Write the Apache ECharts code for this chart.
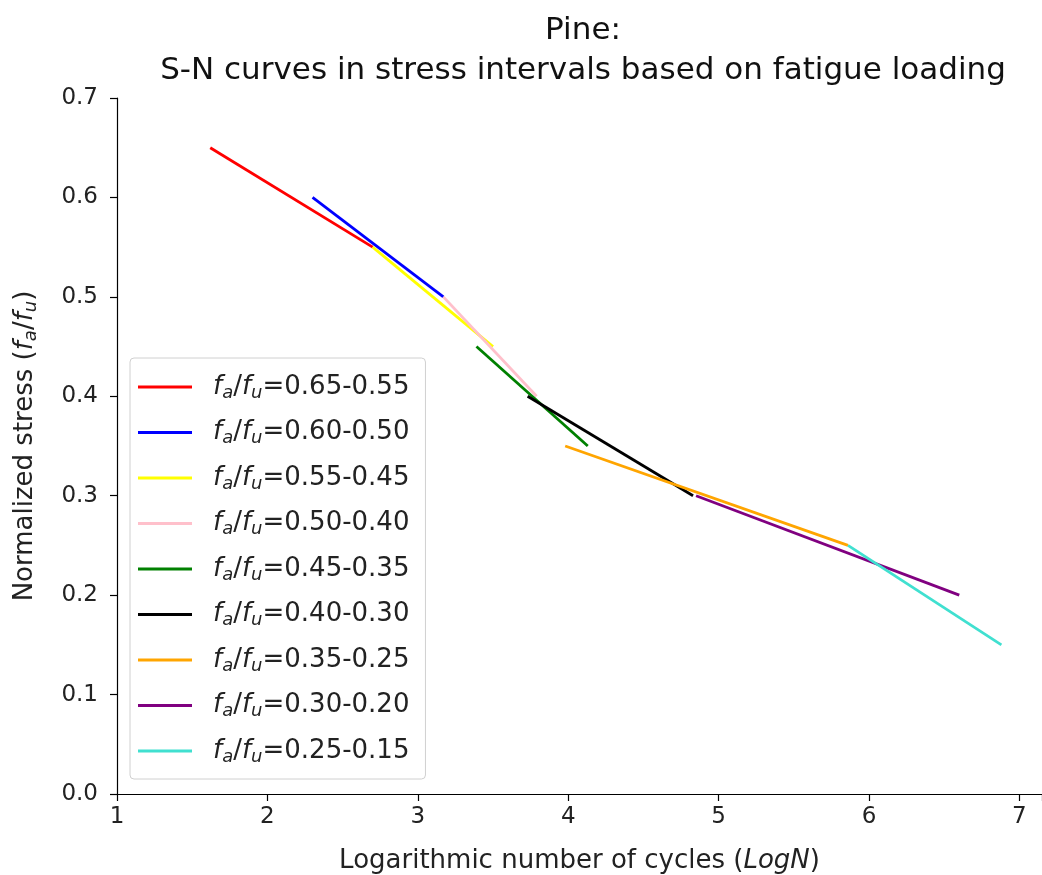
<!DOCTYPE html>
<html>
<head>
<meta charset="utf-8">
<script src="https://cdn.jsdelivr.net/npm/echarts@6/dist/echarts.min.js"></script>
<style>html,body{margin:0;padding:0;background:#fff;}#c{width:1042px;height:875px;}</style>
</head>
<body>
<div id="c"></div>
<script>
const ranges = ['0.65-0.55','0.60-0.50','0.55-0.45','0.50-0.40','0.45-0.35','0.40-0.30','0.35-0.25','0.30-0.20','0.25-0.15'];
const colors = ['#ff0000','#0000ff','#ffff00','#ffc0cb','#008000','#000000','#ffa500','#800080','#40e0d0'];
const logN = [[1.62,2.70],[2.30,3.17],[2.70,3.50],[3.17,3.79],[3.39,4.13],[3.73,4.83],[3.98,5.86],[4.85,6.60],[5.86,6.88]];
const stress = [[0.65,0.55],[0.60,0.50],[0.55,0.45],[0.50,0.40],[0.45,0.35],[0.40,0.30],[0.35,0.25],[0.30,0.20],[0.25,0.15]];
const xTicks = [1,2,3,4,5,6,7];
const yTicks = [0.0,0.1,0.2,0.3,0.4,0.5,0.6,0.7];

const FONT = 'DejaVu Sans';
function mkRich(sz) {
  return {
    i: {fontFamily: FONT, fontStyle: 'italic', fontSize: sz, color: '#222'},
    s: {fontFamily: FONT, fontStyle: 'italic', fontSize: Math.round(sz*0.7), color: '#222', padding: [Math.round(sz*0.45),0,0,0]},
    t: {fontFamily: FONT, fontSize: sz, color: '#222'}
  };
}
const chart = echarts.init(document.getElementById('c'), null, {renderer: 'canvas'});
const series = ranges.map((r, k) => ({
  name: r,
  type: 'line',
  data: logN[k].map((x, j) => [x, stress[k][j]]),
  showSymbol: false,
  symbol: 'none',
  lineStyle: {color: colors[k], width: 2.8},
  itemStyle: {color: colors[k]},
  animation: false,
  z: 2 + k
}));
chart.setOption({
  animation: false,
  backgroundColor: '#fff',
  title: {
    text: 'Pine:\nS-N curves in stress intervals based on fatigue loading',
    left: 578, top: 6, textAlign: 'center',
    textStyle: {fontFamily: FONT, fontWeight: 'normal', fontSize: 31, lineHeight: 40, color: '#111'}
  },
  grid: {left: 117, right: 0, top: 98, bottom: 81, containLabel: false, outerBoundsMode: 'none'},
  legend: {
    orient: 'vertical', left: 130, top: 358,
    backgroundColor: '#fff', borderColor: '#d0d0d0', borderWidth: 1, borderRadius: 4,
    padding: [16, 16, 13, 8],
    itemWidth: 54, itemHeight: 3, itemGap: 17.5,
    icon: 'rect',
    formatter: name => '{i|f}{s|a}{t|/}{i|f}{s|u}{t|=' + name + '}',
    textStyle: {fontFamily: FONT, fontSize: 26, color: '#222', padding: [0,0,0,16], rich: mkRich(26)},
    data: ranges
  },
  xAxis: [{
    type: 'value', min: 1, max: 7.15, interval: 1,
    name: 'Logarithmic number of cycles ({i|LogN})', nameLocation: 'middle', nameGap: 54,
    nameTextStyle: {fontFamily: FONT, fontSize: 26, color: '#222', rich: mkRich(26)},
    axisLine: {show: true, onZero: false, lineStyle: {color: '#000', width: 1.2}},
    axisTick: {show: true, inside: false, length: 7, lineStyle: {color: '#000', width: 1.2}},
    axisLabel: {fontFamily: FONT, fontSize: 23, color: '#222', margin: 12,
      formatter: v => xTicks.includes(Math.round(v*100)/100) ? String(v) : ''},
    splitLine: {show: false}
  }, {
    type: 'value', position: 'top', min: 1, max: 7.15,
    axisLine: {show: true, lineStyle: {color: '#000', width: 1.2}},
    axisTick: {show: false}, axisLabel: {show: false}, splitLine: {show: false}
  }],
  yAxis: {
    type: 'value', min: 0, max: 0.7, interval: 0.1,
    name: 'Normalized stress ({i|f}{s|a}{t|/}{i|f}{s|u}{t|)}', nameLocation: 'middle', nameGap: 77, nameRotate: 90,
    nameTextStyle: {fontFamily: FONT, fontSize: 26, color: '#222', rich: mkRich(26)},
    axisLine: {show: true, onZero: false, lineStyle: {color: '#000', width: 1.2}},
    axisTick: {show: true, inside: false, length: 7, lineStyle: {color: '#000', width: 1.2}},
    axisLabel: {fontFamily: FONT, fontSize: 23, color: '#222', margin: 19,
      formatter: v => yTicks.some(t => Math.abs(t - v) < 1e-6) ? v.toFixed(1) : ''},
    splitLine: {show: false}
  },
  series: series
});
</script>
</body>
</html>
